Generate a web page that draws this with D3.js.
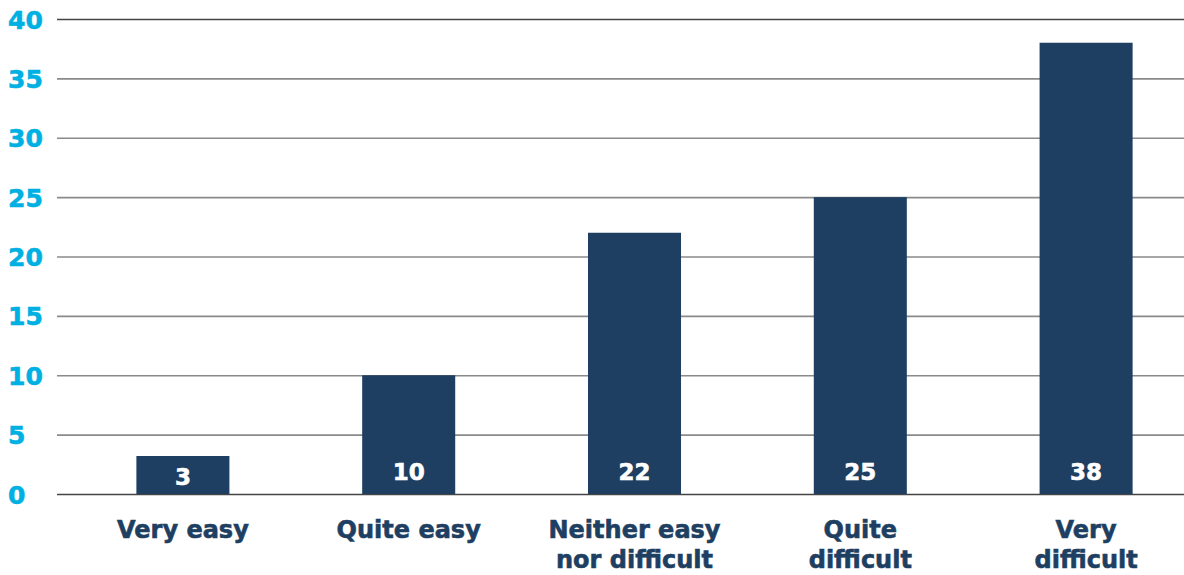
<!DOCTYPE html>
<html><head><meta charset="utf-8">
<script src="https://cdn.jsdelivr.net/npm/d3@7"></script>
<style>body{margin:0;background:#fff;} svg{display:block;}</style>
</head><body>
<svg id="chart" width="1184" height="575"></svg>
<script>
const categories = [["Very easy"], ["Quite easy"], ["Neither easy", "nor difficult"], ["Quite", "difficult"], ["Very", "difficult"]];
const values = [3.2, 10, 22, 25, 38];
const labels = ["3", "10", "22", "25", "38"];
const yTicks = [0, 5, 10, 15, 20, 25, 30, 35, 40];

const svg = d3.select("#chart");
const W = 1184;
const navy = "#1e3f62", cyan = "#00b0e2";
const font = "'DejaVu Sans', Verdana, sans-serif";

const y = d3.scaleLinear().domain([0, 40]).range([494, 19]);
const x = d3.scaleBand().domain(d3.range(values.length)).range([70, 1199]).paddingInner(0.588).paddingOuter(0.294);

// gridlines
const yAxis = d3.axisLeft(y).tickValues(yTicks).tickSize(-(W - 57)).tickFormat(d3.format("d"));
const ga = svg.append("g").attr("transform", "translate(57,0)").call(yAxis);
ga.select(".domain").remove();
ga.selectAll(".tick line").attr("stroke", d => (d === 0 || d === 40) ? "#444" : "#8a8a8a").attr("stroke-width", 1.6);
ga.selectAll(".tick text").attr("x", -49).attr("text-anchor", "start").attr("dy", "0.36em")
  .attr("fill", cyan).attr("stroke", cyan).attr("stroke-width", 0.6)
  .style("font-family", font).style("font-weight", "bold").style("font-size", "25px");

// bars
svg.append("g").selectAll("rect").data(values).join("rect")
  .attr("x", (d, i) => x(i)).attr("width", x.bandwidth())
  .attr("y", d => y(d)).attr("height", d => y(0) - y(d)).attr("fill", navy);

// value labels
svg.append("g").selectAll("text").data(values).join("text")
  .attr("x", (d, i) => x(i) + x.bandwidth() / 2)
  .attr("y", d => (y(0) - y(d)) < 45 ? (y(d) + y(0)) / 2 + 10 : y(0) - 14)
  .attr("text-anchor", "middle").attr("fill", "#fff").attr("stroke", "#fff").attr("stroke-width", 0.6)
  .style("font-family", font).style("font-weight", "bold").style("font-size", "23px")
  .text((d, i) => labels[i]);

// category labels
const cg = svg.append("g").selectAll("text").data(categories).join("text")
  .attr("x", (d, i) => x(i) + x.bandwidth() / 2)
  .attr("y", 538)
  .attr("text-anchor", "middle").attr("fill", navy).attr("stroke", navy).attr("stroke-width", 0.6)
  .style("font-family", font).style("font-weight", "bold").style("font-size", "24px");
cg.selectAll("tspan").data(d => d).join("tspan")
  .attr("x", function () { return d3.select(this.parentNode).attr("x"); })
  .attr("dy", (d, i) => i === 0 ? 0 : 30)
  .text(d => d);
</script>
</body></html>
